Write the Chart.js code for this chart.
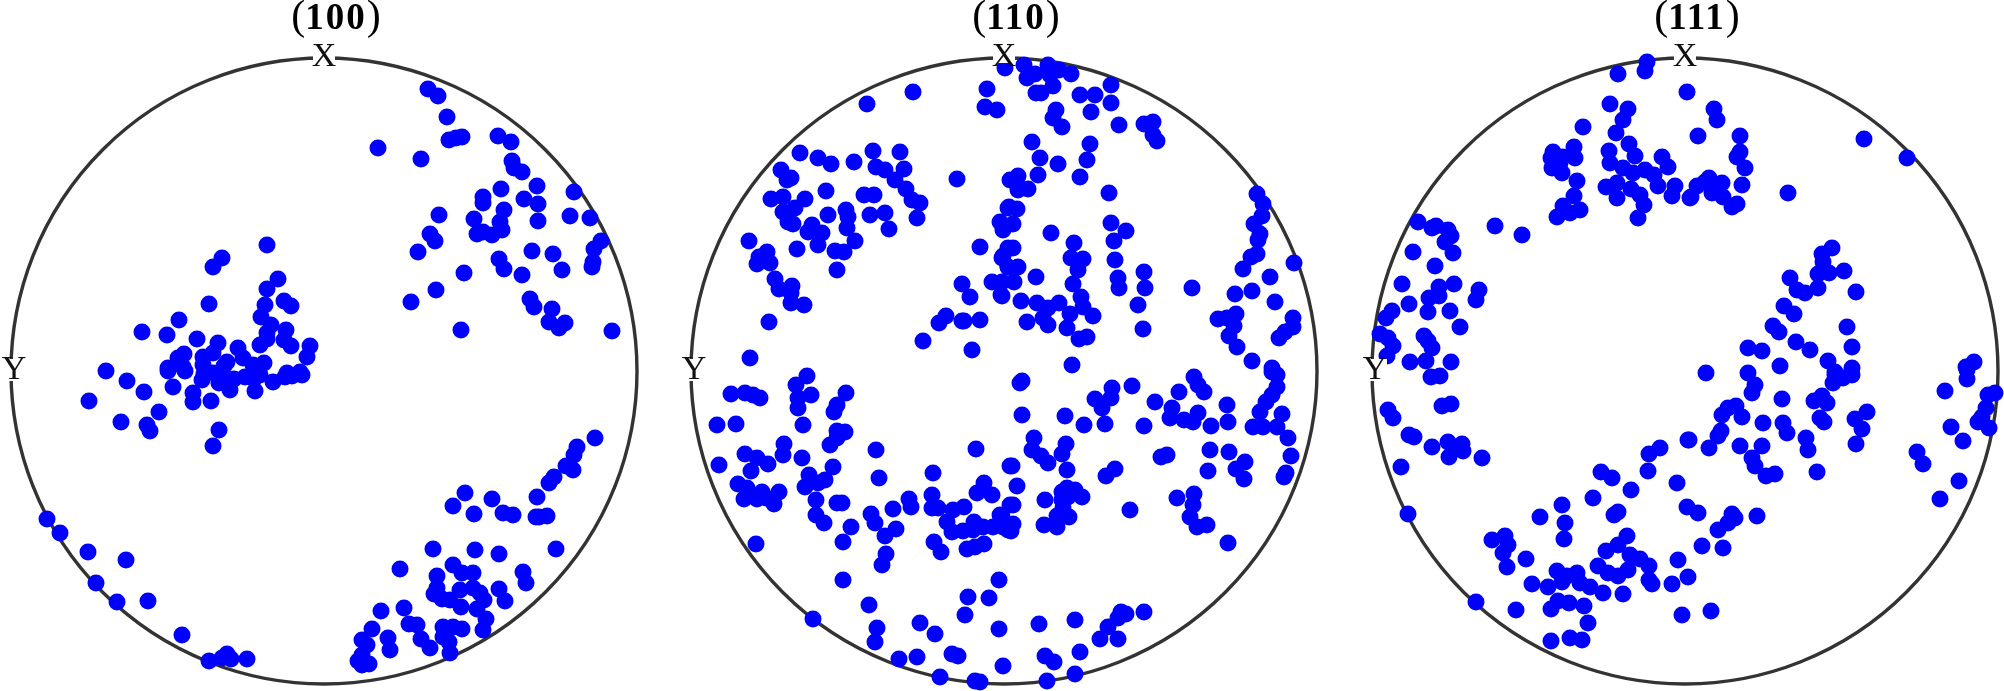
<!DOCTYPE html>
<html>
<head>
<meta charset="utf-8">
<title>Pole figures</title>
<script src="https://cdn.jsdelivr.net/npm/chart.js@4"></script>
<style>
  html, body { margin: 0; padding: 0; background: #fff; overflow: hidden; }
  #wrap { position: relative; width: 2004px; height: 691px; overflow: hidden; }
  canvas { position: absolute; top: 0; }
</style>
</head>
<body>
<div id="wrap">
  <canvas id="pole100" width="660" height="691" style="left:-6px"></canvas>
  <canvas id="pole110" width="660" height="691" style="left:674px"></canvas>
  <canvas id="pole111" width="660" height="691" style="left:1355px"></canvas>
</div>
<script>
// pole figure labels
const titles = ['100', '110', '111'];
const xLabel = 'X';
const yLabel = 'Y';

// points, as [x, y] from the disc centre (disc radius = 313)
const points100 = [
  [-57,126],[-102,113],[-111,104],[-46,92],[-57,82],[-115,67],[-40,70],[-33,65],[-59,66],[-63,54],
  [-145,51],[-53,46],[-182,39],[-38,41],[-157,36],[-57,38],[-57,32],[-64,26],[-127,32],[-106,28],
  [-40,31],[-33,25],[-14,25],[-17,14],[-86,23],[-140,17],[-146,13],[-121,14],[-111,18],[-97,9],
  [-81,13],[-60,8],[-71,6],[-156,3],[-218,0],[-141,4],[-121,6],[-24,-1],[-37,-2],
  [-197,-10],[-180,-21],[-151,-16],[-156,0],[-139,0],[-131,-22],[-131,-31],[-122,-9],[-113,-30],
  [-94,-19],[-69,-20],[-111,-2],[-104,-6],[-79,-6],[-64,-4],[-51,-11],[-39,-6],[-32,-5],[-22,-4],
  [-235,-30],[-165,-41],[-203,-51],[-177,-54],[-174,-60],[-105,-59],[-111,-75],
  [-100,5],[-90,-8],[-120,-3],[-70,-8],[-105,-12],
  [-277,-148],[-264,-162],[-236,-181],[-198,-189],[-228,-212],[-207,-231],[-176,-230],[-142,-264],
  [-115,-290],[-102,-287],[-97,-283],[-93,-288],[-77,-288],
  [104,282],[114,275],[123,254],[125,231],[132,233],[138,234],[174,235],[187,229],[54,223],[97,212],
  [188,210],[190,203],[198,199],[213,185],[250,179],[177,182],[159,174],[159,168],[200,172],[214,167],
  [180,161],[246,155],[266,153],[115,156],[150,152],[214,150],[176,149],[178,141],[159,139],[153,137],
  [168,136],[106,137],[111,130],[277,130],[270,122],[94,119],[208,120],[229,117],[175,112],[180,102],
  [269,109],[268,104],[238,101],[140,98],[198,96],[112,81],[206,72],[210,64],[87,69],[228,62],
  [225,49],[241,48],[235,43],[137,41],[288,40],
  [271,-67],[253,-76],[250,-84],[242,-95],[249,-99],[230,-106],[225,-112],[213,-126],[141,-122],
  [168,-128],[129,-135],[150,-143],[179,-142],[189,-144],[212,-146],[215,-146],[223,-145],[109,-178],
  [151,-179],[175,-183],[232,-178],[76,-198],[129,-194],[138,-202],[149,-202],[199,-201],[202,-212],
  [113,-205],[113,-217],[110,-223],[118,-228],[136,-219],[149,-217],[156,-222],[175,-218],[181,-230],
  [160,-229],[126,-229],[137,-236],[153,-238],[80,-237],[57,-240],[162,-248],[159,-259],[85,-253],
  [93,-254],[119,-256],[129,-256],[138,-258],[48,-258],[38,-269],[43,-274],[64,-267],[66,-279],
  [97,-268],[106,-277],[119,-266],[125,-271],[126,-282],[38,-284],[34,-290],[38,-294],[45,-293]
];

const points110 = [
  [1,303],[-17,282],[-19,264],[-7,261],[-91,279],[-137,267],[-204,218],[-186,213],[-173,207],[-150,209],
  [-131,220],[-104,219],[-128,204],[-100,202],[-223,201],[-119,201],[-213,193],[-217,191],[-109,191],
  [-47,192],[6,191],[-98,182],[-178,180],[-140,176],[-130,176],[-221,174],[-233,172],[-199,172],[-92,171],
  [-84,168],[-209,163],[-221,159],[-158,161],[-134,156],[-119,158],[-176,156],[-156,154],[-87,153],
  [-216,149],[-211,147],[-192,146],[-157,143],[-115,142],[-196,139],[-182,138],[-149,130],[-255,130],
  [-186,126],[-207,122],[-237,119],[-169,120],[-160,119],[-245,114],[-234,108],[-247,107],[-167,101],
  [-229,92],[-212,85],[-225,82],[-213,78],[-213,68],[-200,66],[-235,49],[-254,13],
  [-42,87],[-34,74],[-12,89],[-2,89],[-3,76],[-58,55],[-65,48],[-42,50],[-40,50],[-24,51],[-81,30],
  [-32,21],[-24,124],[-1,115],[4,123],[4,104],[-4,149],[-1,141],[4,163],
  [20,306],[44,306],[55,301],[67,297],[23,293],[31,297],[46,296],[49,285],[32,278],[37,278],[107,286],
  [76,276],[91,276],[107,268],[52,261],[87,259],[49,253],[58,244],[115,246],[140,247],[149,249],
  [149,236],[153,230],[28,229],[86,227],[36,213],[83,211],[54,207],[34,196],[76,194],[14,195],[10,190],
  [24,182],[14,181],[105,178],[253,177],[259,167],[5,164],[13,162],[258,155],[250,147],[107,148],
  [122,140],[9,147],[-1,144],[256,137],[47,138],[110,130],[70,128],[254,131],[9,123],[253,117],[247,114],
  [67,113],[79,112],[111,111],[290,108],[-2,113],[14,104],[74,101],[4,104],[239,102],[140,99],[114,93],
  [266,94],[32,94],[10,89],[69,87],[115,83],[141,83],[188,83],[248,80],[231,77],[77,74],[-2,75],[17,70],
  [33,68],[55,68],[271,69],[134,66],[79,64],[44,63],[66,57],[89,55],[232,57],[214,52],[223,53],[289,53],
  [39,53],[23,49],[44,46],[230,45],[289,44],[63,43],[139,42],[281,39],[225,35],[275,33],[83,34],[75,32],
  [233,24],[68,6],[248,10],[268,3],
  [-197,-5],[-208,-14],[-273,-23],[-259,-22],[-251,-24],[-244,-27],[-193,-24],[-158,-22],[-206,-27],
  [-206,-37],[-167,-34],[-170,-41],[-287,-54],[-268,-53],[-201,-54],[-167,-60],[-159,-61],[-167,-67],
  [-174,-74],[-220,-73],[-128,-79],[-28,-78],[-259,-83],[-247,-87],[-221,-84],[-202,-87],[-236,-93],
  [-285,-94],[-171,-96],[6,-95],[-253,-100],[-71,-102],[-195,-104],[-125,-107],[-179,-109],[-186,-112],
  [-199,-116],[-266,-113],[-257,-117],[-20,-112],[-242,-121],[-225,-121],[-27,-122],[-12,-124],[-72,-124],
  [-256,-122],[-260,-128],[-247,-128],[-238,-127],[-230,-133],[-188,-129],[-167,-132],[-162,-132],
  [-95,-128],[-93,-136],[-111,-138],[-72,-137],[-66,-137],[-40,-136],[-51,-139],[6,-134],[-188,-144],
  [-180,-152],[-133,-143],[-129,-152],[-4,-144],[-30,-151],[-57,-151],[-153,-156],[-108,-158],[-119,-165],
  [-52,-161],[-41,-160],[-31,-159],[-21,-156],[-11,-156],[4,-159],[-161,-171],[-70,-171],[-63,-181],
  [-248,-173],[-37,-178],[-29,-176],[-20,-173],[-118,-183],[-122,-194],[-161,-209],[-5,-209],[-36,-226],
  [-15,-227],[-135,-234],[-39,-244],[-191,-248],[-84,-252],[-127,-257],[-5,-258],[-69,-263],[-129,-271],
  [-52,-283],[-46,-285],[-87,-286],[-105,-288],[-1,-295],[-64,-306],[-29,-310],[-24,-311],
  [18,-10],[16,-12],[128,-15],[190,-6],[273,-4],[268,-1],[108,-17],[194,-14],[175,-21],[200,-21],[273,-16],
  [107,-27],[91,-28],[268,-24],[262,-31],[151,-31],[223,-34],[168,-37],[98,-37],[256,-41],[278,-43],
  [18,-44],[61,-45],[194,-42],[166,-47],[180,-49],[189,-51],[224,-51],[80,-54],[101,-53],[140,-55],
  [207,-55],[249,-56],[259,-56],[273,-56],[30,-67],[284,-67],[62,-73],[28,-79],[206,-79],[225,-81],
  [37,-85],[58,-83],[163,-84],[157,-86],[287,-85],[44,-92],[241,-91],[8,-95],[232,-98],[111,-98],[63,-99],
  [204,-100],[282,-102],[102,-105],[280,-106],[240,-108],[13,-115],[63,-117],[71,-119],[58,-121],
  [190,-123],[78,-126],[64,-126],[173,-127],[41,-129],[58,-129],[189,-134],[9,-134],[126,-139],[59,-137],
  [186,-146],[53,-145],[65,-146],[-2,-146],[9,-153],[193,-156],[203,-154],[40,-154],[53,-156],[7,-160],
  [-1,-156],[224,-172],[140,-241],[117,-241],[122,-243],[114,-247],[71,-249],[35,-253],[104,-256],
  [96,-268],[114,-268],[76,-281],[41,-285],[50,-291],[71,-303],[43,-310]
];

const points111 = [
  [-38,309],[-40,300],[-67,297],[2,279],[-75,267],[-57,262],[-62,251],[-102,244],[-69,238],[-56,227],
  [-111,224],[-132,219],[-76,220],[-50,215],[-23,214],[-134,213],[-122,214],[-110,213],[-75,208],[-17,204],
  [-133,203],[-125,208],[-62,203],[-40,201],[-123,198],[-52,198],[-31,196],[-108,190],[-68,188],[-10,185],
  [-79,184],[-27,185],[-54,182],[-45,176],[-111,175],[-68,173],[-13,175],[5,173],[-122,165],[-41,166],
  [-105,161],[-115,158],[-128,154],[-47,153],[-267,149],[-249,145],[-253,143],[-190,145],[-237,141],
  [-163,136],[-234,135],[-240,129],[-272,119],[-232,118],[-250,105],[-283,87],[-231,87],[-246,84],
  [-246,75],[-256,73],[-206,81],[-209,71],[-276,67],[-293,60],[-257,59],[-235,60],[-299,53],[-225,44],
  [-305,37],[-297,33],[-261,35],[-257,30],[-292,25],[-253,23],[-298,15],[-259,10],[-275,9],[-234,9],
  [-254,-6],[-245,-5],[-234,-33],[-243,-35],[-297,-39],[-292,-47],[-276,-64],[-271,-66],[-253,-76],
  [-237,-71],[-223,-73],[-230,-77],[-222,-80],[-236,-86],[-203,-87],[-284,-96],[3,-69],[-25,-77],[-36,-83],
  [-37,-100],[-84,-101],[-73,-107],[-8,-112],[-54,-119],[-92,-127],[2,-136],[-123,-134],[-67,-141],
  [-71,-144],[-277,-143],[-145,-146],[-120,-152],[-58,-165],[-180,-165],[-193,-169],[-121,-168],[-177,-174],
  [-67,-174],[-79,-180],[-182,-182],[-55,-184],[-7,-189],[-45,-188],[-159,-188],[-87,-195],[-36,-195],
  [-178,-196],[-128,-200],[-57,-199],[-77,-202],[-108,-202],[3,-206],[-67,-205],[-118,-205],[-123,-211],
  [-36,-209],[-105,-212],[-13,-213],[-153,-213],[-95,-216],[-137,-216],[-33,-213],[-82,-222],[-62,-223],
  [-127,-230],[-116,-232],[-209,-231],[-101,-235],[-134,-238],[-169,-239],[-3,-244],[-97,-252],[-115,-267],
  [-103,-269],[-134,-270],
  [29,262],[32,251],[13,235],[55,235],[179,232],[55,219],[52,214],[222,213],[60,203],[24,193],[37,188],
  [12,185],[20,189],[57,186],[103,178],[27,178],[38,174],[6,174],[47,164],[52,167],[147,123],[137,117],
  [138,109],[133,97],[144,98],[159,100],[105,93],[112,81],[133,83],[120,78],[171,79],[99,65],[109,57],
  [88,45],[162,44],[94,39],[111,29],[63,23],[167,24],[125,21],[77,20],[143,10],[95,5],[289,9],[281,4],
  [21,-2],[63,-2],[167,3],[150,-1],
  [70,-14],[67,-22],[97,-28],[150,-4],[158,-7],[167,-4],[148,-12],[282,-8],[282,1],[260,-20],[310,-22],
  [303,-24],[137,-25],[129,-30],[142,-32],[51,-35],[43,-37],[37,-44],[57,-46],[135,-47],[139,-51],
  [182,-41],[170,-48],[301,-37],[297,-46],[293,-51],[78,-52],[98,-52],[177,-58],[304,-57],[266,-56],
  [102,-62],[36,-60],[33,-65],[121,-67],[4,-69],[278,-70],[171,-73],[55,-75],[77,-75],[24,-77],[123,-79],
  [232,-81],[67,-87],[70,-95],[238,-93],[132,-101],[90,-103],[81,-105],[274,-110],[255,-128],[13,-142],
  [47,-143],[50,-147],[43,-152],[72,-145],[33,-159],[17,-175],[38,-177],[26,-240]
];

const discRadius = 313;
const xRange = [-330, 330];
const yRange = [-320, 330];

// disc outline under the points, X / Y / (hkl) text above them
const poleFigure = {
  id: 'poleFigure',
  beforeDatasetsDraw(chart) {
    const { ctx, scales: { x, y } } = chart;
    ctx.save();
    ctx.beginPath();
    ctx.arc(x.getPixelForValue(0), y.getPixelForValue(0), x.getPixelForValue(discRadius) - x.getPixelForValue(0), 0, Math.PI * 2);
    ctx.strokeStyle = '#333';
    ctx.lineWidth = 3.4;
    ctx.stroke();
    ctx.restore();
  },
  afterDatasetsDraw(chart, args, opts) {
    const { ctx, scales: { x, y } } = chart;
    ctx.save();
    ctx.textAlign = 'center';
    ctx.textBaseline = 'middle';
    ctx.font = '34px "Liberation Serif"';

    // white box behind each axis letter, it hides the ring and any dot
    const xx = x.getPixelForValue(0), xy = y.getPixelForValue(314);
    ctx.fillStyle = '#fff';
    ctx.fillRect(xx - 11, xy - 12, 22, 18);
    ctx.fillStyle = '#111';
    ctx.fillText(xLabel, xx, xy);

    const yx = x.getPixelForValue(-310), yy = y.getPixelForValue(1);
    ctx.fillStyle = '#fff';
    ctx.fillRect(yx - 12, yy - 11, 24, 22);
    ctx.fillStyle = '#111';
    ctx.fillText(yLabel, yx, yy);

    // title: plain brackets, bold digits
    const tx = x.getPixelForValue(12), ty = y.getPixelForValue(342);
    ctx.textBaseline = 'alphabetic';
    ctx.textAlign = 'left';
    ctx.fillStyle = '#000';
    const plain = '42px "Liberation Serif"', bold = 'bold 37px "Liberation Serif"';
    ctx.font = plain;
    const pw = ctx.measureText('(').width;
    ctx.font = bold;
    ctx.letterSpacing = '2px';
    const dw = ctx.measureText(opts.title).width;
    const left = tx - (pw * 2 + dw) / 2;
    ctx.fillText(opts.title, left + pw, ty);
    ctx.letterSpacing = '0px';
    ctx.font = plain;
    ctx.fillText('(', left, ty);
    ctx.fillText(')', left + pw + dw, ty);
    ctx.restore();
  }
};

function drawPole(id, points, title) {
  new Chart(document.getElementById(id), {
    type: 'scatter',
    data: {
      datasets: [{
        data: points.map(p => ({ x: p[0], y: p[1] })),
        backgroundColor: '#0000ff',
        borderWidth: 0,
        pointRadius: 8.5,
        pointHoverRadius: 8.5
      }]
    },
    options: {
      responsive: false,
      animation: false,
      devicePixelRatio: 1,
      layout: { autoPadding: false, padding: { top: 41 } },
      plugins: {
        legend: { display: false },
        tooltip: { enabled: false },
        poleFigure: { title }
      },
      scales: {
        x: { type: 'linear', display: false, min: xRange[0], max: xRange[1] },
        y: { type: 'linear', display: false, min: yRange[0], max: yRange[1] }
      }
    },
    plugins: [poleFigure]
  });
}

drawPole('pole100', points100, titles[0]);
drawPole('pole110', points110, titles[1]);
drawPole('pole111', points111, titles[2]);
</script>
</body>
</html>
